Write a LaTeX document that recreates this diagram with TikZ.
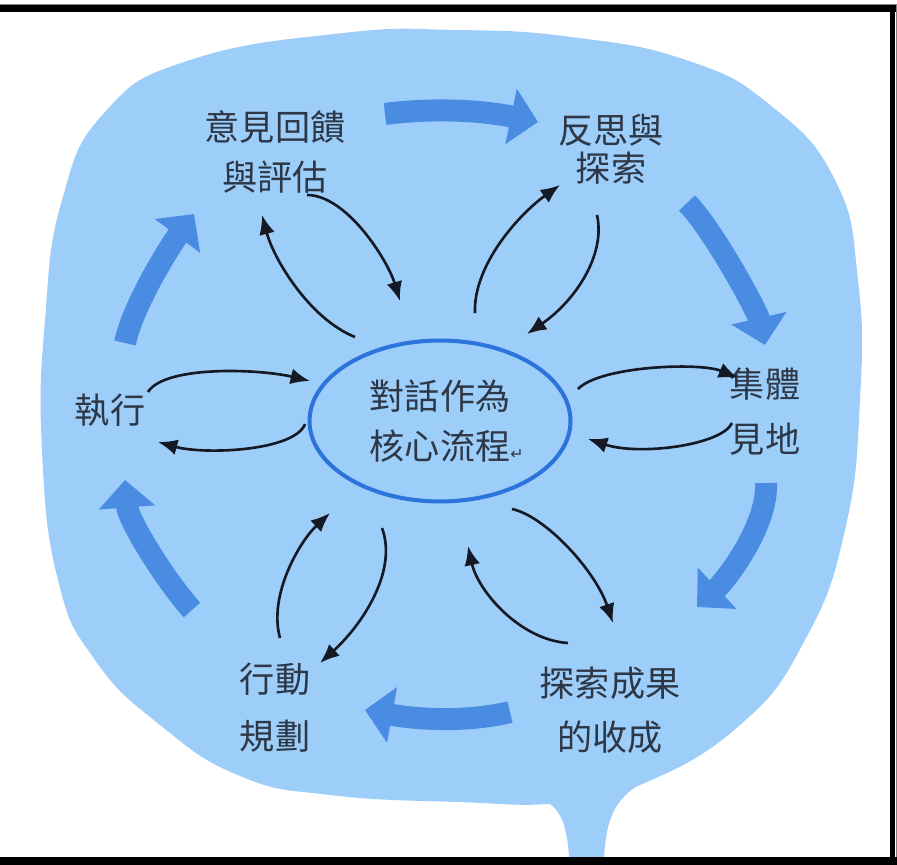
\documentclass[tikz,border=0pt]{standalone}
\usepackage{fontspec}
\newfontfamily\cjk{Noto Sans CJK TC}
\newfontfamily\retfont{DejaVu Sans}
\usetikzlibrary{shapes.geometric,arrows.meta}
\definecolor{sky}{RGB}{157,206,250}
\definecolor{flow}{RGB}{74,140,225}
\definecolor{ring}{RGB}{45,115,220}
\definecolor{ink}{RGB}{45,55,70}
\definecolor{wire}{RGB}{20,25,35}
\begin{document}
\begin{tikzpicture}[x=0.02cm, y=-0.02cm,
    lbl/.style={font=\cjk\fontsize{20pt}{#1}\selectfont, align=center, text=ink, inner sep=0pt},
    link/.style={draw=wire, line width=1.5pt, -{Latex[length=11pt,width=9pt]}},
    loopflow/.style={draw=flow, line width=0.44cm, -{Triangle[length=0.55cm,width=1.1cm]}}]
    \useasboundingbox (0,0) rectangle (897,865);
    \fill[sky] plot[smooth cycle, tension=0.8] coordinates {(105,112) (190,60) (343,33) (457,30) (571,37) (686,60) (770,105) (835,180) (858,280) (860,400) (845,530) (805,640) (740,725) (640,785) (560,803) (457,802) (330,795) (240,776) (160,725) (95,660) (58,580) (42,450) (45,320) (62,200)};
    \fill[sky] (520,796) .. controls (552,798) and (566,808) .. (569,857) -- (604,857) .. controls (607,815) and (615,797) .. (650,778) -- cycle;

    \node[lbl=28.5pt, ellipse, draw=ring, line width=2.3pt, minimum width=5.22cm, minimum height=3.22cm] (core) at (440,421) {對話作為\\核心流程\rlap{\retfont\fontsize{9pt}{9pt}\selectfont ↵}};
    \node[lbl=29pt] (feedback) at (275,152) {意見回饋\\與評估};
    \node[lbl=21.6pt] (reflect) at (611,149) {反思與\\探索};
    \node[lbl=31.3pt] (insight) at (765,412) {集體\\見地};
    \node[lbl=30.7pt] (harvest) at (610,710) {探索成果\\的收成};
    \node[lbl=32.4pt] (plan) at (275,708) {行動\\規劃};
    \node[lbl=20pt] (act) at (110,410) {執行};

    \draw[loopflow] ([shift={(110,-38)}]feedback.center) .. controls +(45,-6) and +(-58,-12) .. ([shift={(-73,-27)}]reflect.center);
    \draw[loopflow] ([shift={(76,54)}]reflect.center) .. controls +(25,25) and +(-8,-35) .. ([shift={(0,-67)}]insight.center);
    \draw[loopflow] ([shift={(1,71)}]insight.center) .. controls +(2,42) and +(30,-28) .. ([shift={(87,-103)}]harvest.center);
    \draw[loopflow] ([shift={(-100,2)}]harvest.center) .. controls +(-40,10) and +(55,10) .. ([shift={(90,2)}]plan.center);
    \draw[loopflow] ([shift={(-83,-98)}]plan.center) .. controls +(-27,-30) and +(3,40) .. ([shift={(15,70)}]act.center);
    \draw[loopflow] ([shift={(15,-67)}]act.center) .. controls +(8,-38) and +(-24,32) .. ([shift={(-81,62)}]feedback.center);

    \draw[link] ([shift={(-85,-84)}]core.center) .. controls +(-45,-18) and +(12,45) .. ([shift={(-13,63)}]feedback.center);
    \draw[link] ([shift={(32,43)}]feedback.center) .. controls +(40,0) and +(-12,-40) .. ([shift={(-40,-120)}]core.center);
    \draw[link] ([shift={(35,-108)}]core.center) .. controls +(-2,-47) and +(-42,30) .. ([shift={(-51,36)}]reflect.center);
    \draw[link] ([shift={(-14,66)}]reflect.center) .. controls +(9,40) and +(48,-33) .. ([shift={(87,-87)}]core.center);
    \draw[link] ([shift={(138,-32)}]core.center) .. controls +(22,-23) and +(-38,-16) .. ([shift={(-27,-34)}]insight.center);
    \draw[link] ([shift={(-33,11)}]insight.center) .. controls +(-10,22) and +(52,17) .. ([shift={(148,18)}]core.center);
    \draw[link] ([shift={(38,-18)}]act.center) .. controls +(17,-27) and +(-50,-12) .. ([shift={(-130,-40)}]core.center);
    \draw[link] ([shift={(-135,3)}]core.center) .. controls +(-10,27) and +(47,13) .. ([shift={(48,32)}]act.center);
    \draw[link] ([shift={(5,-70)}]plan.center) .. controls +(-12,-43) and +(-30,28) .. ([shift={(-110,92)}]core.center);
    \draw[link] ([shift={(-58,107)}]core.center) .. controls +(16,43) and +(42,-38) .. ([shift={(45,-45)}]plan.center);
    \draw[link] ([shift={(72,88)}]core.center) .. controls +(33,7) and +(-18,-53) .. ([shift={(3,-87)}]harvest.center);
    \draw[link] ([shift={(-42,-67)}]harvest.center) .. controls +(-48,-3) and +(10,45) .. ([shift={(28,125)}]core.center);

    \fill[black] (0,5) rectangle (897,12);
    \fill[black] (890,5) rectangle (895,865);
    \fill[black] (0,857) rectangle (897,865);
    \draw[gray, line width=0.5pt] (0,4.5) -- (897,4.5);
    \draw[gray, line width=0.5pt] (896,4) -- (896,857);
\end{tikzpicture}
\end{document}
